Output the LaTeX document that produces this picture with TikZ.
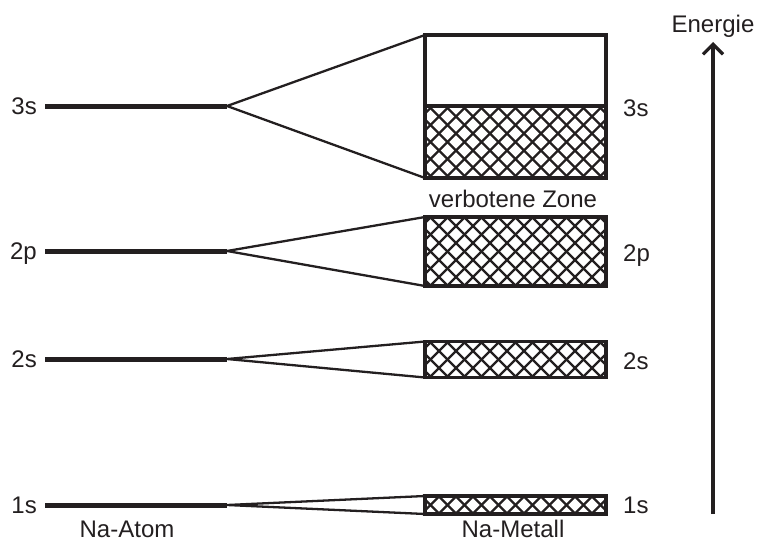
\documentclass[tikz,border=0pt]{standalone}
\usepackage{fontspec}
\setmainfont{Liberation Sans}
\usetikzlibrary{arrows.meta}
\definecolor{ink}{HTML}{231F20}
\tikzset{
  level/.style={draw=ink, line width=5pt},
  fan/.style={draw=ink, line width=2.3pt, line join=miter},
  band/.style={draw=ink, line width=3.4pt, rectangle, inner sep=0pt, outer sep=0pt,
               minimum width=181pt},
  hatched/.style={band, path picture={
      \foreach \k in {-14,...,14}{
        \draw[ink, line width=2.3pt]
          ([xshift=\k*17pt]path picture bounding box.center) ++(-120pt,-120pt) -- ++(240pt,240pt);
        \draw[ink, line width=2.3pt]
          ([xshift=\k*17pt]path picture bounding box.center) ++(-120pt,120pt) -- ++(240pt,-240pt);
      }}},
  lbl/.style={text=ink, font=\fontsize{24pt}{28pt}\selectfont, inner sep=0pt},
}
\begin{document}
\begin{tikzpicture}[x=1pt,y=-1pt]
  \useasboundingbox (0,0) rectangle (766,543);

  % atomic levels (left) and their fan-out point
  \foreach \n/\y in {3s/106, 2p/251, 2s/359, 1s/505}{
    \coordinate (a\n) at (45,\y);
    \coordinate (f\n) at (227,\y);
  }

  % bands of the metal
  \node[band, minimum height=71pt] (b3sup) at (515.5,70.5) {};
  \node[hatched, minimum height=72pt] (b3s) at (515.5,142) {};
  \node[hatched, minimum height=69pt] (b2p) at (515.5,251.5) {};
  \node[hatched, minimum height=36pt] (b2s) at (515.5,359.5) {};
  \node[hatched, minimum height=18pt] (b1s) at (515.5,505) {};

  % level lines
  \foreach \n in {3s,2p,2s,1s}{
    \draw[level] (a\n) -- (f\n);
  }
  % splitting into bands
  \draw[fan] (b3sup.north west) -- (f3s) -- (b3s.south west);
  \draw[fan] (b2p.north west) -- (f2p) -- (b2p.south west);
  \draw[fan] (b2s.north west) -- (f2s) -- (b2s.south west);
  \draw[fan] (b1s.north west) -- (f1s) -- (b1s.south west);

  % labels
  \node[lbl, anchor=base east] (l3s) at (37,114) {3s};
  \node[lbl, anchor=base east] (l2p) at (37,259) {2p};
  \node[lbl, anchor=base east] (l2s) at (37,367) {2s};
  \node[lbl, anchor=base east] (l1s) at (37,513) {1s};
  \node[lbl, anchor=base west] (r3s) at (623,117) {3s};
  \node[lbl, anchor=base west] (r2p) at (623,261) {2p};
  \node[lbl, anchor=base west] (r2s) at (623,369) {2s};
  \node[lbl, anchor=base west] (r1s) at (623,513) {1s};
  \node[lbl, anchor=base] (zone) at (513,207) {verbotene Zone};
  \node[lbl, anchor=base] (atom) at (127,537) {Na-Atom};
  \node[lbl, anchor=base] (metall) at (513,537) {Na-Metall};

  % energy axis
  \coordinate (e0) at (713,514);
  \coordinate (e1) at (713,42);
  \draw[ink, line width=3.2pt, -{Straight Barb[length=10pt, width=20pt, line width=3.2pt]}] (e0) -- (e1);
  \node[lbl, anchor=base] (energie) at (713,33) {Energie};
\end{tikzpicture}
\end{document}
